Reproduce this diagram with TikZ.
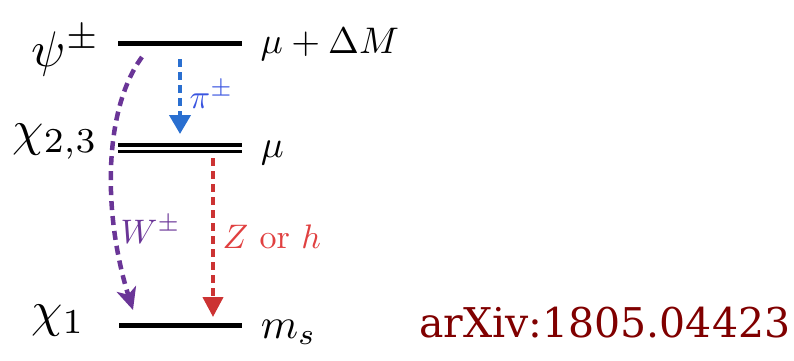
\documentclass[tikz,border=0pt]{standalone}
\usepackage{fontspec}
\newfontfamily\arxivfont{DejaVu Serif}
\usetikzlibrary{arrows.meta}
\definecolor{pblue}{HTML}{2A6FD0}
\definecolor{pbluetext}{HTML}{3A55E0}
\definecolor{pred}{HTML}{CC3333}
\definecolor{predtext}{HTML}{E04040}
\definecolor{ppurple}{HTML}{6A3597}
\definecolor{arxivred}{HTML}{800000}
\begin{document}
\begin{tikzpicture}[x=1pt,y=-1pt,
  level/.style={line width=5pt},
  sublevel/.style={line width=3.8pt},
  biglabel/.style={scale=5, inner sep=0pt},
  smalllabel/.style={scale=3.4, inner sep=0pt},
  masslabel/.style={scale=3.7, inner sep=0pt},
  decay/.style={line width=4pt, dash pattern=on 8pt off 5pt},
  bluedecay/.style={decay, draw=pblue, -{Triangle[length=19pt,width=21pt]}},
  reddecay/.style={decay, draw=pred, -{Triangle[length=20pt,width=20pt]}},
  purpledecay/.style={decay, line width=4.5pt, dash pattern=on 9pt off 6pt, draw=ppurple, -{Stealth[length=22pt,width=20pt,inset=6pt]}}]
\useasboundingbox (0,0) rectangle (794,360);

% levels
\coordinate (tl) at (118,43);
\coordinate (tr) at (242,43);
\coordinate (m1l) at (118,145.3);
\coordinate (m1r) at (242,145.3);
\coordinate (m2l) at (118,151.5);
\coordinate (m2r) at (242,151.5);
\coordinate (bl) at (119,325.5);
\coordinate (br) at (242,325.5);
\draw[level] (tl) -- (tr);
\draw[sublevel] (m1l) -- (m1r);
\draw[sublevel] (m2l) -- (m2r);
\draw[level] (bl) -- (br);

% left labels
\node[biglabel, anchor=base east] (psi) at (101,66) {$\psi^{\pm}$};
\node[biglabel, anchor=base east] (chi23) at (99,145) {$\chi_{2,3}$};
\node[biglabel, anchor=base east] (chi1) at (86,326) {$\chi_1$};

% right labels
\node[masslabel, anchor=base west] (mdm) at (260,53) {$\mu+\Delta M$};
\node[masslabel, scale=1.03, anchor=base west] (mu) at (260,157) {$\mu$};
\node[masslabel, scale=1.15, anchor=base west] (ms) at (260,338) {$m_s$};

% decays
\coordinate (pis) at (180,59);
\coordinate (pie) at (180,134);
\draw[bluedecay] (pis) -- (pie);
\node[smalllabel, text=pbluetext, anchor=base west] (pilab) at (189,108) {$\pi^{\pm}$};

\coordinate (zs) at (213,158);
\coordinate (ze) at (213,317);
\draw[reddecay] (zs) -- (ze);
\node[smalllabel, text=predtext, anchor=base west] (zlab) at (222,248) {$Z$ or $h$};

\coordinate (ws) at (142,57);
\coordinate (we) at (133,310);
\draw[purpledecay] (ws) .. controls (103,110) and (103,215) .. (we);
\node[smalllabel, text=ppurple, anchor=base west] (wlab) at (120,243) {$W^{\pm}$};

% reference
\node[anchor=base west, inner sep=0pt, text=arxivred, font=\arxivfont\fontsize{41}{48}\selectfont] (arxiv) at (419,337) {arXiv:1805.04423};
\end{tikzpicture}
\end{document}
